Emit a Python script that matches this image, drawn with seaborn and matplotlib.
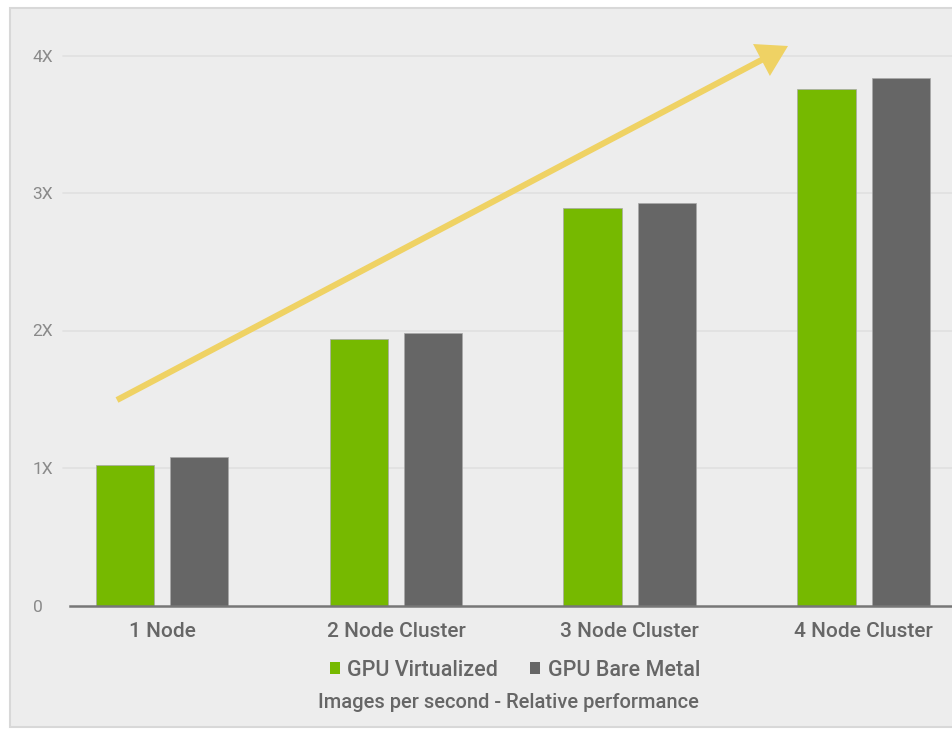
import matplotlib
matplotlib.use("Agg")
import matplotlib.pyplot as plt
from matplotlib.patches import Rectangle
import seaborn as sns
import pandas as pd

# ---- data ----
categories = ["1 Node", "2 Node Cluster", "3 Node Cluster", "4 Node Cluster"]
series_names = ["GPU Virtualized", "GPU Bare Metal"]
gpu_virtualized = [1.02, 1.94, 2.89, 3.76]
gpu_bare_metal = [1.08, 1.98, 2.93, 3.84]
ytick_values = [0, 1, 2, 3, 4]
ytick_labels = ["0", "1X", "2X", "3X", "4X"]
caption = "Images per second - Relative performance"

colors = {"GPU Virtualized": "#76b900", "GPU Bare Metal": "#666666"}

df = pd.DataFrame({
    "category": categories * 2,
    "series": [series_names[0]] * 4 + [series_names[1]] * 4,
    "value": gpu_virtualized + gpu_bare_metal,
})

sns.set_theme(style="white")
plt.rcParams["font.family"] = ["Roboto", "DejaVu Sans"]

W, H = 952, 730
fig = plt.figure(figsize=(W / 100, H / 100), dpi=100, facecolor="white")

# panel background
fig.patches.append(Rectangle((10 / W, 3 / H), 1.2, (H - 11) / H, transform=fig.transFigure,
                             facecolor="#ededed", edgecolor="#d8d8d8", lw=1.5, zorder=-10))

# axes geometry (pixels)
unit_y = 137.5
base_px = 605.5
ytop = 4.3
ax_left, ax_right = 70, 952
ax = fig.add_axes([ax_left / W, (H - base_px) / H, (ax_right - ax_left) / W, ytop * unit_y / H])
ax.set_facecolor("none")
ax.set_zorder(1)

sns.barplot(data=df, x="category", y="value", hue="series", hue_order=series_names,
            palette=colors, width=0.637, gap=0.22, ax=ax, saturation=1,
            edgecolor="#a8a8a8", linewidth=0.5, legend=False)

spacing = 233.9
c0 = 162.0
ax.set_xlim((ax_left - c0) / spacing, (ax_right - c0) / spacing)
ax.set_ylim(0, ytop)

# grid lines
for v in ytick_values[1:]:
    ax.axhline(v, xmin=-7 / (ax_right - ax_left), xmax=1, color="#e0e0e0", lw=1.2,
               zorder=0, clip_on=False)

for s in ["top", "right", "left"]:
    ax.spines[s].set_visible(False)
ax.spines["bottom"].set_color("#777777")
ax.spines["bottom"].set_linewidth(1.8)

ax.set_yticks(ytick_values)
ax.set_yticklabels(ytick_labels, color="#8a8a8a", fontsize=12.5, ha="left")
ax.tick_params(axis="y", length=0, pad=27)
ax.tick_params(axis="x", length=0, pad=12, labelsize=15, labelcolor="#666666")
for lbl in ax.get_xticklabels():
    lbl.set_fontweight("medium")
ax.set_xlabel("")
ax.set_ylabel("")

# trend arrow
ax.annotate("", xy=((788 - c0) / spacing, (base_px - 46) / unit_y),
            xytext=((117 - c0) / spacing, (base_px - 400) / unit_y),
            xycoords="data", annotation_clip=False,
            arrowprops=dict(arrowstyle="simple,head_length=1.08,head_width=1.3,tail_width=0.22",
                            mutation_scale=20, facecolor="#efd264", edgecolor="none",
                            shrinkA=0, shrinkB=0))

# legend
handles = [Rectangle((0, 0), 1, 1, facecolor=colors[n], edgecolor="none") for n in series_names]
fig.legend(handles, series_names, loc="center", bbox_to_anchor=(515 / W, 1 - 670 / H),
           ncol=2, frameon=False, labelcolor="#666666",
           prop={"size": 15.5, "weight": "medium"},
           handlelength=0.45, handleheight=0.45, handletextpad=0.35, columnspacing=1.5)

fig.text(508 / W, 1 - 703 / H, caption, ha="center", va="center", fontsize=14.5,
         fontweight="medium", color="#666666")

fig.savefig("out.png", dpi=100, facecolor="white")
